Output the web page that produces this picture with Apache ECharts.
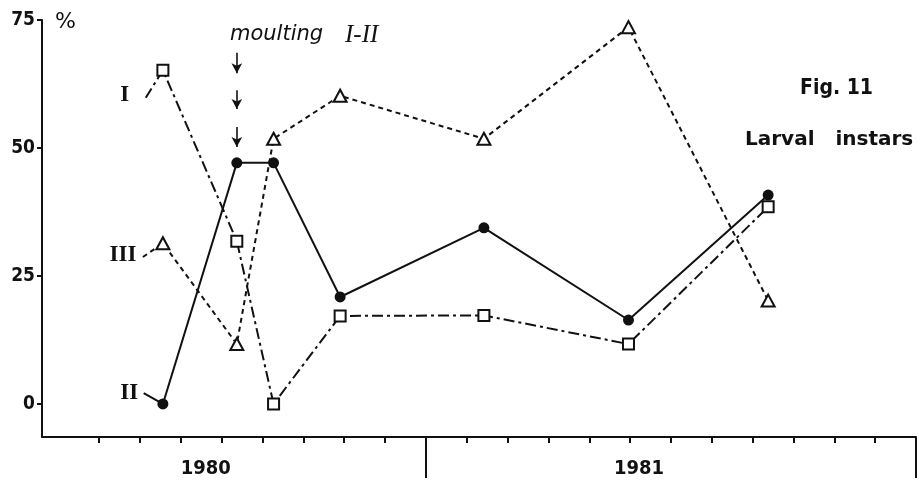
<!DOCTYPE html>
<html><head><meta charset="utf-8">
<script src="https://cdn.jsdelivr.net/npm/echarts@6/dist/echarts.min.js"></script>
<style>html,body{margin:0;padding:0;background:#fff}#c{width:918px;height:480px}</style>
</head><body><div id="c"></div>
<script>
// sampling dates in months since 1 Jan 1980
const sampleMonth = [5.56, 7.37, 8.27, 9.9, 13.42, 16.96, 20.38];
const instarI   = [65.2, 31.8, 0, 17.2, 17.3, 11.7, 38.5];
const instarII  = [0, 47.1, 47.1, 20.9, 34.4, 16.4, 40.8];
const instarIII = [31.4, 11.7, 51.8, 60.2, 51.8, 73.6, 20.2];
const seriesNames = ['I', 'II', 'III'];
// start points of the short connector strokes next to the series labels
const leaderI = [5.14, 59.8];
const leaderII = [5.09, 2.1];
const leaderIII = [5.07, 28.7];
const yTicks = [0, 25, 50, 75];
const monthTicks = [4,5,6,7,8,9,10,11,13,14,15,16,17,18,19,20,21,22,23];
const yearBounds = [12, 24];
const yearLabels = ['1980', '1981'];
const yearLabelAt = [6.61, 17.22];
const moultingMonth = 7.37;
const moultingArrows = [[68.6, 64.6], [61.3, 57.6], [54.1, 50.2]];

const BLACK = '#111';
const numFont = "'DejaVu Sans Condensed', 'DejaVu Sans', sans-serif";
const romanFont = "'Liberation Serif', 'DejaVu Serif', serif";

function build(vals, leader) {
  const d = [{ value: leader, symbol: 'none' }];
  vals.forEach((v, i) => d.push([sampleMonth[i], v]));
  return d;
}
function labelPoint(leader, text, dist, dy) {
  return {
    symbol: 'rect', symbolSize: 1, itemStyle: { color: 'rgba(0,0,0,0)' },
    label: { show: true, position: 'left', distance: dist, offset: [0, dy], color: BLACK,
      fontFamily: romanFont, fontWeight: 'bold', fontSize: 23 },
    data: [{ coord: leader, value: text }]
  };
}

const chart = echarts.init(document.getElementById('c'), null, { renderer: 'canvas' });
chart.setOption({
  backgroundColor: '#fff',
  animation: false,
  grid: { left: 42, right: 2, top: 20, bottom: 43 },
  xAxis: [{
    type: 'value', min: 2.6, max: 24,
    axisLine: { show: true, onZero: false, lineStyle: { color: BLACK, width: 2 } },
    axisTick: { show: true, customValues: monthTicks, length: 6, lineStyle: { color: BLACK, width: 2 } },
    axisLabel: { show: true, customValues: yearLabelAt, margin: 22,
      formatter: v => { const i = yearLabelAt.findIndex(a => Math.abs(a - v) < 0.01); return i >= 0 ? yearLabels[i] : ''; },
      color: BLACK, fontFamily: numFont, fontWeight: 'bold', fontSize: 20 },
    splitLine: { show: false }
  }, {
    type: 'value', min: 2.6, max: 24, position: 'bottom',
    axisLine: { show: false, onZero: false },
    axisTick: { show: true, customValues: yearBounds, length: 41, lineStyle: { color: BLACK, width: 2 } },
    axisLabel: { show: false },
    splitLine: { show: false }
  }],
  yAxis: {
    type: 'value', min: -6.45, max: 75,
    axisLine: { show: true, onZero: false, lineStyle: { color: BLACK, width: 2 } },
    axisTick: { show: true, customValues: yTicks, length: 5, lineStyle: { color: BLACK, width: 2 } },
    axisLabel: { show: true, customValues: yTicks, margin: 7, color: BLACK,
      fontFamily: numFont, fontWeight: 'bold', fontSize: 19 },
    splitLine: { show: false }
  },
  graphic: [
    { type: 'text', left: 55, top: 11, style: { text: '%', fontSize: 22, fill: BLACK, fontFamily: "'DejaVu Sans', sans-serif" } },
    { type: 'text', left: 230, top: 24, style: { text: 'moulting', fontSize: 21, fontStyle: 'italic',
      fontFamily: "'DejaVu Sans', sans-serif", fill: BLACK } },
    { type: 'text', left: 345, top: 23, style: { text: 'I-II', fontSize: 25, fontStyle: 'italic',
      fontFamily: romanFont, fill: BLACK } },
    { type: 'text', left: 800, top: 78, style: { text: 'Fig. 11', fontSize: 21, fontWeight: 'bold', fill: BLACK, fontFamily: numFont } },
    { type: 'text', left: 745, top: 130, style: { text: 'Larval   instars', fontSize: 20, fontWeight: 'bold', fill: BLACK, fontFamily: "'DejaVu Sans', sans-serif" } }
  ],
  series: [{
    name: seriesNames[0], type: 'line', data: build(instarI, leaderI),
    symbol: 'emptyRect', symbolSize: 11, z: 3,
    lineStyle: { color: BLACK, width: 2, type: [11, 4, 3, 4] },
    itemStyle: { color: BLACK, borderWidth: 1.6 },
    markPoint: labelPoint(leaderI, 'I', 16, -3)
  }, {
    name: seriesNames[1], type: 'line', data: build(instarII, leaderII),
    symbol: 'circle', symbolSize: 11, z: 4,
    lineStyle: { color: BLACK, width: 2, type: 'solid' },
    itemStyle: { color: BLACK },
    markPoint: labelPoint(leaderII, 'II', 5, 0),
    markLine: {
      silent: true, symbol: ['none', 'arrow'], symbolSize: [8, 10],
      lineStyle: { color: BLACK, width: 1.6, type: 'solid' },
      label: { show: false },
      data: moultingArrows.map(a => [{ coord: [moultingMonth, a[0]] }, { coord: [moultingMonth, a[1]] }])
    }
  }, {
    name: seriesNames[2], type: 'line', data: build(instarIII, leaderIII),
    symbol: 'emptyTriangle', symbolSize: [13, 12], z: 2,
    lineStyle: { color: BLACK, width: 2, type: [5, 4] },
    itemStyle: { color: BLACK, borderWidth: 1.6 },
    markPoint: labelPoint(leaderIII, 'III', 6, -2)
  }]
});
</script></body></html>
